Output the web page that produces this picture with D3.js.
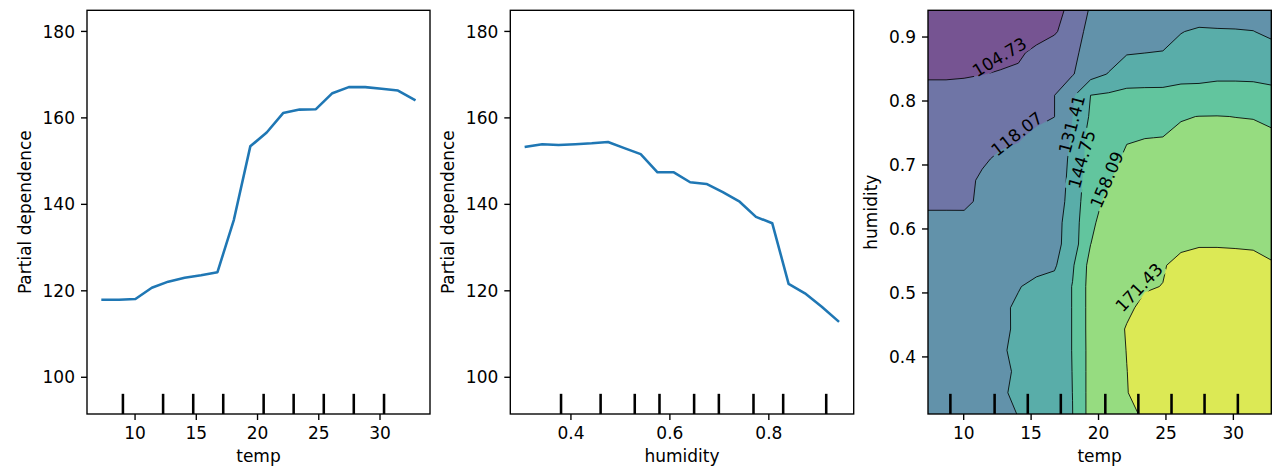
<!DOCTYPE html>
<html>
<head>
<meta charset="utf-8">
<script src="https://cdn.jsdelivr.net/npm/d3@7"></script>
<style>
  body { margin: 0; background: #fff; }
  svg { display: block; }
  text { font-family: "DejaVu Sans", sans-serif; }
</style>
</head>
<body>
<svg id="chart" width="1283" height="467"></svg>
<script>
// grid used by the partial dependence computation (20 points each)
const tempGrid = [7.39, 8.73, 10.07, 11.41, 12.75, 14.09, 15.43, 16.77, 18.11, 19.45,
  20.79, 22.13, 23.47, 24.81, 26.15, 27.49, 28.83, 30.17, 31.51, 32.85];
const humidityGrid = [0.310, 0.343, 0.376, 0.410, 0.443, 0.476, 0.509, 0.542, 0.576, 0.609,
  0.642, 0.675, 0.708, 0.742, 0.775, 0.808, 0.841, 0.874, 0.908, 0.941];

// one-way partial dependence
const pdTemp = [117.8, 117.8, 118.0, 120.6, 122.0, 122.9, 123.5, 124.2, 136.3, 153.3,
  156.5, 161.0, 161.8, 161.9, 165.6, 167.0, 167.0, 166.6, 166.2, 164.1];
const pdHumidity = [153.2, 153.8, 153.6, 153.8, 154.0, 154.3, 152.9, 151.5, 147.3, 147.3,
  145.0, 144.6, 142.7, 140.5, 137.0, 135.5, 121.5, 119.3, 116.2, 112.9];

// deciles shown as rug marks
const tempDeciles = [9.05, 12.33, 14.79, 17.24, 20.54, 22.99, 25.45, 27.90, 30.37];
const humidityDeciles = [0.381, 0.461, 0.530, 0.580, 0.650, 0.700, 0.770, 0.830, 0.917];

// contour levels of the two-way plot
const pdLevels = [91.39, 104.73, 118.07, 131.41, 144.75, 158.09, 171.43, 184.77];

// two-way partial dependence, one row per humidity value (bottom row first)
const pdGrid = [
  [125, 125, 125.5, 126.5, 129, 131.65, 133, 136, 144.6, 162.8, 166, 169, 172.8, 176, 179, 181, 182.5, 183.5, 184, 184],
  [124.5, 124.5, 125, 126, 130.5, 132.67, 134, 136, 144.84, 162.75, 166.5, 171.1, 175, 178, 180.5, 182, 183.5, 184.2, 184.5, 184],
  [124, 124, 124.5, 126, 130, 132.27, 134, 136, 145.02, 162.68, 166.5, 171.3, 175.6, 178.5, 181, 182.5, 184, 184.77, 184.6, 184.2],
  [123.5, 123.5, 124, 125.5, 130.5, 132.96, 134, 136, 145.21, 162.62, 166.5, 171.64, 175, 178, 180.5, 182, 183.5, 184.3, 184.3, 184],
  [123, 123, 123.5, 125, 130, 132.47, 134, 136, 145.21, 162.85, 166.5, 172.1, 174.5, 177.5, 180, 181.5, 183, 184, 184, 183.5],
  [122.5, 122.5, 123, 124.5, 130, 132.5, 134, 136, 145.21, 162.85, 166, 169.5, 173.9, 176.5, 179, 181, 182.5, 183, 183, 182.5],
  [122, 122, 122.5, 124, 127, 131, 133.4, 136, 145.21, 162.85, 165.5, 167.5, 170.5, 171.65, 175.5, 178, 179.5, 180, 179.5, 178.5],
  [121.5, 121.5, 122, 123.5, 125, 127, 129, 129.8, 143.23, 162.29, 165, 167, 169, 170.5, 174.93, 175.5, 176, 176, 175, 173],
  [121, 121, 121.5, 122.5, 123.5, 124.5, 126, 127.2, 138.2, 158.0, 164, 166, 167.5, 168.5, 169.1, 170.65, 170.56, 170.2, 169.97, 166.5],
  [119.5, 119.5, 120, 121, 122, 123.5, 125, 126.1, 138.7, 155, 165.66, 166, 167, 167.5, 167.5, 168, 168, 167.5, 167, 164],
  [117.07, 117.07, 116.7, 119.4, 120.3, 121.5, 122.8, 124, 137, 154, 160.7, 163.5, 165, 165.5, 165.5, 166, 166, 165.5, 165, 162],
  [114, 114.5, 115, 119.8, 120, 121, 122, 123, 136, 152, 157.5, 162, 163, 163.5, 163.5, 164, 164, 163.5, 163, 160],
  [112, 112.5, 113.5, 116.5, 120.0, 120.5, 121, 122, 135, 150, 155, 159.8, 160.5, 161, 161.5, 162, 162, 161.5, 161, 159],
  [110, 110.5, 111.5, 113, 115.5, 117.3, 120.26, 121, 133.1, 150.0, 153, 157.32, 157.99, 158.2, 159.5, 160, 160.5, 160.3, 160, 159],
  [108, 108.5, 109.5, 110.5, 112, 114, 116, 118.0, 131.3, 146.4, 149, 151.5, 153.5, 155.5, 157.64, 158.2, 158.3, 158.0, 157.8, 157.06],
  [108, 108, 108.5, 110.25, 111, 113, 115.5, 118.0, 129.4, 144.8, 146.5, 147.5, 148, 148.5, 150, 151, 151.5, 151.5, 151, 150],
  [103.5, 103.5, 103.8, 104.5, 105.4, 106, 110, 114, 117.2, 126.6, 132, 139.2, 139, 138.4, 140.1, 139.8, 141.4, 141.4, 141.2, 139.06],
  [97, 97.5, 98.5, 100, 102, 103.5, 106.6, 111, 114.5, 124.7, 126.1, 130.54, 131.33, 132, 135, 136, 136.5, 136.5, 136, 135],
  [92.5, 93, 94, 95.5, 97, 99, 101.5, 103.5, 110.7, 122.8, 124.5, 125, 125.2, 125.4, 131.0, 133, 132.5, 132.3, 131.6, 129.4],
  [91.39, 92, 93, 94.5, 96, 98, 100.5, 102.5, 106.7, 119.77, 121, 122, 123, 123.5, 124.5, 125.05, 125.2, 124.9, 126.85, 127]
];

// inline contour labels: level, where it sits (temp, humidity), angle in degrees
const contourLabels = [
  {level: 104.73, temp: 12.68, humidity: 0.868, angle: -31},
  {level: 118.07, temp: 13.97, humidity: 0.748, angle: -38},
  {level: 131.41, temp: 18.05, humidity: 0.763, angle: -75},
  {level: 144.75, temp: 18.79, humidity: 0.708, angle: -74},
  {level: 158.09, temp: 20.65, humidity: 0.676, angle: -67},
  {level: 171.43, temp: 23.04, humidity: 0.508, angle: -46}
];

const pdTicks = [100, 120, 140, 160, 180];
const tempTicks = [10, 15, 20, 25, 30];
const humidityTicks1d = [0.4, 0.6, 0.8];
const humidityTicks2d = [0.4, 0.5, 0.6, 0.7, 0.8, 0.9];

// ---- layout ----
const plotTop = 10.3, plotBottom = 414;
const fontPx = 17;
const spineW = 1.37;
const panels = [
  {left: 87, right: 430},
  {left: 510.3, right: 853.7},
  {left: 928, right: 1271.3}
];

const svg = d3.select('#chart');

// matplotlib-style 5% margins
function padded(ext) {
  const d = (ext[1] - ext[0]) * 0.05;
  return [ext[0] - d, ext[1] + d];
}

const yPD = d3.scaleLinear()
  .domain([pdLevels[0], pdLevels[pdLevels.length - 1]])
  .range([plotBottom, plotTop]);
const x1 = d3.scaleLinear().domain(padded(d3.extent(tempGrid))).range([panels[0].left, panels[0].right]);
const x2 = d3.scaleLinear().domain(padded(d3.extent(humidityGrid))).range([panels[1].left, panels[1].right]);
const x3 = d3.scaleLinear().domain(d3.extent(tempGrid)).range([panels[2].left, panels[2].right]);
const y3 = d3.scaleLinear().domain(d3.extent(humidityGrid)).range([plotBottom, plotTop]);

function drawAxes(g, xs, ys, xTicks, yTicks, xFmt, yFmt) {
  const xa = g.append('g')
    .attr('transform', `translate(0,${plotBottom})`)
    .call(d3.axisBottom(xs).tickValues(xTicks).tickFormat(xFmt).tickSize(6).tickPadding(7));
  const ya = g.append('g')
    .attr('transform', `translate(${xs.range()[0]},0)`)
    .call(d3.axisLeft(ys).tickValues(yTicks).tickFormat(yFmt).tickSize(6).tickPadding(6));
  [xa, ya].forEach(a => {
    a.select('.domain').remove();
    a.attr('font-size', fontPx).attr('font-family', '"DejaVu Sans", sans-serif');
    a.selectAll('.tick line').attr('stroke', '#000').attr('stroke-width', spineW);
    a.selectAll('.tick text').attr('fill', '#000');
  });
  ya.selectAll('.tick text').attr('dy', '0.36em');
}

function drawFrame(g, p) {
  g.append('rect')
    .attr('x', p.left).attr('y', plotTop)
    .attr('width', p.right - p.left).attr('height', plotBottom - plotTop)
    .attr('fill', 'none').attr('stroke', '#000').attr('stroke-width', spineW);
}

function drawRug(g, xs, deciles) {
  const h = (plotBottom - plotTop) * 0.05;
  g.append('g').selectAll('line').data(deciles).join('line')
    .attr('x1', d => xs(d)).attr('x2', d => xs(d))
    .attr('y1', plotBottom - h).attr('y2', plotBottom)
    .attr('stroke', '#000').attr('stroke-width', 2.56);
}

function drawLabels(g, p, xLabel, yLabel, yLabelX) {
  g.append('text')
    .attr('x', (p.left + p.right) / 2).attr('y', 462)
    .attr('text-anchor', 'middle').attr('font-size', fontPx).attr('fill', '#000')
    .text(xLabel);
  g.append('text')
    .attr('transform', `translate(${yLabelX},${(plotTop + plotBottom) / 2}) rotate(-90)`)
    .attr('text-anchor', 'middle').attr('font-size', fontPx).attr('fill', '#000')
    .text(yLabel);
}

const lineColor = '#1f77b4';

// ---- panel 1: temp ----
const g1 = svg.append('g');
const pts1 = tempGrid.map((t, i) => [t, pdTemp[i]]);
g1.append('path')
  .datum(pts1)
  .attr('fill', 'none').attr('stroke', lineColor).attr('stroke-width', 2.56)
  .attr('stroke-linecap', 'square').attr('stroke-linejoin', 'round')
  .attr('d', d3.line().x(d => x1(d[0])).y(d => yPD(d[1])));
drawRug(g1, x1, tempDeciles);
drawAxes(g1, x1, yPD, tempTicks, pdTicks, d3.format('d'), d3.format('d'));
drawFrame(g1, panels[0]);
drawLabels(g1, panels[0], 'temp', 'Partial dependence', 31);

// ---- panel 2: humidity ----
const g2 = svg.append('g');
const pts2 = humidityGrid.map((h, i) => [h, pdHumidity[i]]);
g2.append('path')
  .datum(pts2)
  .attr('fill', 'none').attr('stroke', lineColor).attr('stroke-width', 2.56)
  .attr('stroke-linecap', 'square').attr('stroke-linejoin', 'round')
  .attr('d', d3.line().x(d => x2(d[0])).y(d => yPD(d[1])));
drawRug(g2, x2, humidityDeciles);
drawAxes(g2, x2, yPD, humidityTicks1d, pdTicks, d3.format('.1f'), d3.format('d'));
drawFrame(g2, panels[1]);
drawLabels(g2, panels[1], 'humidity', 'Partial dependence', 454.3);

// ---- panel 3: temp x humidity contour ----
const g3 = svg.append('g');
const p3 = panels[2];
const defs = svg.append('defs');
defs.append('clipPath').attr('id', 'clip3')
  .append('rect')
  .attr('x', p3.left).attr('y', plotTop)
  .attr('width', p3.right - p3.left).attr('height', plotBottom - plotTop);

const nx = tempGrid.length, ny = humidityGrid.length;
const nBands = pdLevels.length - 1;
const bandColor = i => d3.interpolateRgb('#ffffff', d3.interpolateViridis((i + 0.5) / nBands))(0.75);

// d3.contours puts grid value (i, j) at (i + 0.5, j + 0.5)
const xIdx = d3.scaleLinear().domain([0.5, nx - 0.5]).range([x3(tempGrid[0]), x3(tempGrid[nx - 1])]);
const yIdx = d3.scaleLinear().domain([0.5, ny - 0.5]).range([y3(humidityGrid[0]), y3(humidityGrid[ny - 1])]);
const gridPath = d3.geoPath(d3.geoTransform({
  point: function (x, y) { this.stream.point(xIdx(x), yIdx(y)); }
}));

const innerLevels = pdLevels.slice(1, -1);
const contours = d3.contours().size([nx, ny]).thresholds(innerLevels)(pdGrid.flat());

const fills = g3.append('g').attr('clip-path', 'url(#clip3)');
fills.append('rect')
  .attr('x', p3.left).attr('y', plotTop)
  .attr('width', p3.right - p3.left).attr('height', plotBottom - plotTop)
  .attr('fill', bandColor(0));
fills.selectAll('path.band').data(contours).join('path')
  .attr('class', 'band')
  .attr('d', gridPath)
  .attr('fill', (d, i) => bandColor(i + 1));

// contour labels (text first so the line breaks can be sized)
const labelG = g3.append('g');
const labelTexts = labelG.selectAll('text').data(contourLabels).join('text')
  .attr('transform', d => `translate(${x3(d.temp)},${y3(d.humidity)}) rotate(${d.angle})`)
  .attr('text-anchor', 'middle').attr('dy', '0.36em')
  .attr('font-size', fontPx).attr('fill', '#000')
  .text(d => d.level.toFixed(2));

const mask = defs.append('mask').attr('id', 'labelGap')
  .attr('maskUnits', 'userSpaceOnUse')
  .attr('x', 0).attr('y', 0).attr('width', 1283).attr('height', 467);
mask.append('rect').attr('x', 0).attr('y', 0).attr('width', 1283).attr('height', 467).attr('fill', '#fff');
labelTexts.each(function (d) {
  const w = this.getComputedTextLength() + 4;
  mask.append('rect')
    .attr('transform', `translate(${x3(d.temp)},${y3(d.humidity)}) rotate(${d.angle})`)
    .attr('x', -w / 2).attr('y', -fontPx * 0.55)
    .attr('width', w).attr('height', fontPx * 1.1)
    .attr('fill', '#000');
});

const lines = g3.insert('g', () => labelG.node())
  .attr('clip-path', 'url(#clip3)')
  .append('g').attr('mask', 'url(#labelGap)');
lines.selectAll('path').data(contours).join('path')
  .attr('d', gridPath)
  .attr('fill', 'none').attr('stroke', '#000').attr('stroke-width', 0.85)
  .attr('stroke-linejoin', 'round');

drawRug(g3, x3, tempDeciles);
drawAxes(g3, x3, y3, tempTicks, humidityTicks2d, d3.format('d'), d3.format('.1f'));
drawFrame(g3, p3);
drawLabels(g3, p3, 'temp', 'humidity', 876.7);
</script>
</body>
</html>
